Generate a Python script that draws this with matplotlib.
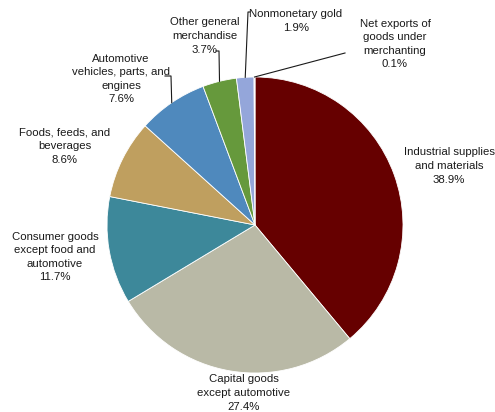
import numpy as np
from matplotlib import pyplot as plt

plt.rcParams['font.family'] = ['Liberation Sans', 'DejaVu Sans']

categories = ["Industrial supplies\nand materials", "Capital goods\nexcept automotive",
              "Consumer goods\nexcept food and\nautomotive", "Foods, feeds, and\nbeverages",
              "Automotive\nvehicles, parts, and\nengines", "Other general\nmerchandise",
              "Nonmonetary gold", "Net exports of\ngoods under\nmerchanting"]
shares = [38.9, 27.4, 11.7, 8.6, 7.6, 3.7, 1.9, 0.1]
colors = ["#660000", "#B9B9A6", "#3D889A", "#BF9F5F", "#4F89BD", "#66993C", "#94A6DA", "#C9B8D8"]

W, H = 495, 412
cx, cy, r = 255, H - 225, 148

fig = plt.figure(figsize=(W / 100, H / 100), dpi=100)
ax = fig.add_axes([0, 0, 1, 1])
wedges, _ = ax.pie(shares, colors=colors, center=(cx, cy), radius=r, startangle=90,
                   counterclock=False, wedgeprops=dict(edgecolor="white", linewidth=0.6))
ax.set_xlim(0, W)
ax.set_ylim(0, H)
ax.set_aspect("equal")
ax.axis("off")


def edge_point(w):
    a = np.deg2rad((w.theta1 + w.theta2) / 2)
    return cx + r * np.cos(a), cy + r * np.sin(a)


# label centers (x, y from top) and leader-line elbows
label_pos = [(449, 166), (244, 393), (55, 257), (65, 146), (121, 79), (205, 36), (296, 21), (395, 44)]
leaders = {
    4: [(165, 76), (171, 76)],
    5: [(216, 51), (219, 51)],
    6: [(250, 12), (248, 12)],
    7: [(345, 53)],
}

for i, (lab, val) in enumerate(zip(categories, shares)):
    x, y = label_pos[i]
    ax.text(x, H - y, f"{lab}\n{val}%", ha="center", va="center", fontsize=8.2,
            color="#1a1a1a", linespacing=1.45)
    if i in leaders:
        ex, ey = edge_point(wedges[i])
        pts = [(px, H - py) for px, py in leaders[i]] + [(ex, ey)]
        xs, ys = zip(*pts)
        ax.plot(xs, ys, color="#1a1a1a", linewidth=0.8)

fig.savefig("out.png", dpi=100)
